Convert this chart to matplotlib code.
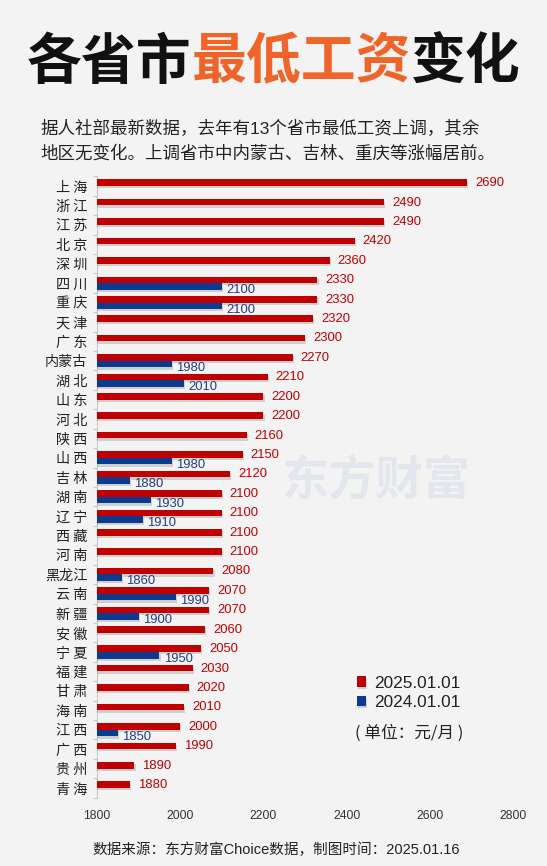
import numpy as np
import matplotlib.pyplot as plt
import matplotlib.patheffects as pe

# 各省市最低工资（元/月）
cities = ['上海', '浙江', '江苏', '北京', '深圳', '四川', '重庆', '天津', '广东', '内蒙古',
          '湖北', '山东', '河北', '陕西', '山西', '吉林', '湖南', '辽宁', '西藏', '河南',
          '黑龙江', '云南', '新疆', '安徽', '宁夏', '福建', '甘肃', '海南', '江西', '广西',
          '贵州', '青海']
wage_2025 = [2690, 2490, 2490, 2420, 2360, 2330, 2330, 2320, 2300, 2270,
             2210, 2200, 2200, 2160, 2150, 2120, 2100, 2100, 2100, 2100,
             2080, 2070, 2070, 2060, 2050, 2030, 2020, 2010, 2000, 1990,
             1890, 1880]
# 去年上调的13个省市（None = 无变化）
wage_2024 = [None, None, None, None, None, 2100, 2100, None, None, 1980,
             2010, None, None, None, 1980, 1880, 1930, 1910, None, None,
             1860, 1990, 1900, None, 1950, None, None, None, 1850, None,
             None, None]
xticks = [1800, 2000, 2200, 2400, 2600, 2800]

plt.rcParams['font.family'] = ['Noto Sans CJK SC', 'DejaVu Sans']
mixed = ['Liberation Sans', 'Noto Sans CJK SC']

red = '#C00000'
blue = '#0B3A8E'
bg = '#F3F3F3'

fig = plt.figure(figsize=(5.47, 8.66), dpi=100)
fig.patch.set_facecolor(bg)
W, H = 547, 866

ax = fig.add_axes([97 / W, 1 - 797.7 / H, 416 / W, 621.4 / H])
ax.set_facecolor('none')

y = np.arange(len(cities))
h = 0.34
shadow = [pe.SimplePatchShadow(offset=(0.8, -1.6), shadow_rgbFace='#8c8c8c', alpha=0.35), pe.Normal()]

bars25 = ax.barh(y - 0.17, wage_2025, height=h, color=red, label='2025.01.01', zorder=3)
idx24 = [i for i, v in enumerate(wage_2024) if v is not None]
vals24 = [wage_2024[i] for i in idx24]
bars24 = ax.barh(y[idx24] + 0.17, vals24, height=h, color=blue, label='2024.01.01', zorder=3)
for b in list(bars25) + list(bars24):
    b.set_path_effects(shadow)

for yi, v in zip(y, wage_2025):
    ax.text(v + 19, yi - 0.15, str(v), color=red, fontsize=9.4, family='Liberation Sans',
            va='center', ha='left', zorder=4)
for yi, v in zip(y[idx24], vals24):
    ax.text(v + 10, yi + 0.36, str(v), color='#1F3C88', fontsize=9.4, family='Liberation Sans',
            va='center', ha='left', zorder=4)

ax.set_xlim(1800, 2800)
ax.set_ylim(len(cities) - 0.5, -0.5)
ax.set_xticks(xticks)
ax.set_xticklabels([str(t) for t in xticks], family='Liberation Sans')
ax.set_yticks(y)
ax.set_yticklabels([' '.join(c) if len(c) == 2 else c for c in cities])
ax.set_yticks(np.arange(len(cities) + 1) - 0.5, minor=True)
ax.tick_params(axis='x', length=0, pad=9, labelsize=8.7, labelcolor='#333333')
ax.tick_params(axis='y', which='major', length=0, pad=7, labelsize=10.2, labelcolor='#222222')
ax.tick_params(axis='y', which='minor', length=3, width=0.8, color='#C8C8C8')
for s in ['top', 'right', 'bottom']:
    ax.spines[s].set_visible(False)
ax.spines['left'].set_color('#C8C8C8')
ax.spines['left'].set_linewidth(0.8)

# 水印
fig.text(281 / W, 1 - 481 / H, '东方财富', fontsize=34, fontweight='bold', color='#E3E7ED',
         va='center', ha='left', zorder=0)

# 标题（三段颜色）
fig.canvas.draw()
r = fig.canvas.get_renderer()
x0 = 27 / W
for part, col in [('各省市', '#111111'), ('最低工资', '#EF6428'), ('变化', '#111111')]:
    t = fig.text(x0, 1 - 62 / H, part, fontsize=39.5, fontweight='heavy', color=col,
                 va='center', ha='left')
    bb = t.get_window_extent(renderer=r)
    x0 = bb.x1 / fig.bbox.width

fig.text(40 / W, 1 - 128 / H, '据人社部最新数据，去年有13个省市最低工资上调，其余',
         fontsize=12.6, color='#222222', va='center', family=mixed)
fig.text(40 / W, 1 - 153 / H, '地区无变化。上调省市中内蒙古、吉林、重庆等涨幅居前。',
         fontsize=12.6, color='#222222', va='center', family=mixed)

leg = ax.legend(loc='upper left', bbox_to_anchor=(348 / W, 1 - 667 / H),
                bbox_transform=fig.transFigure, frameon=False, borderpad=0,
                handlelength=0.55, handleheight=0.55, handletextpad=0.45, labelspacing=0.25,
                prop={'family': 'Liberation Sans', 'size': 12.4})
for t in leg.get_texts():
    t.set_color('#222222')

fig.text(355 / W, 1 - 733 / H, '( 单位：元/月 )', fontsize=12, color='#222222', va='center')

fig.text(276 / W, 1 - 850 / H, '数据来源：东方财富Choice数据，制图时间：2025.01.16',
         fontsize=10.5, color='#222222', ha='center', va='center', family=mixed)

fig.savefig('out.png', dpi=100, facecolor=bg)
